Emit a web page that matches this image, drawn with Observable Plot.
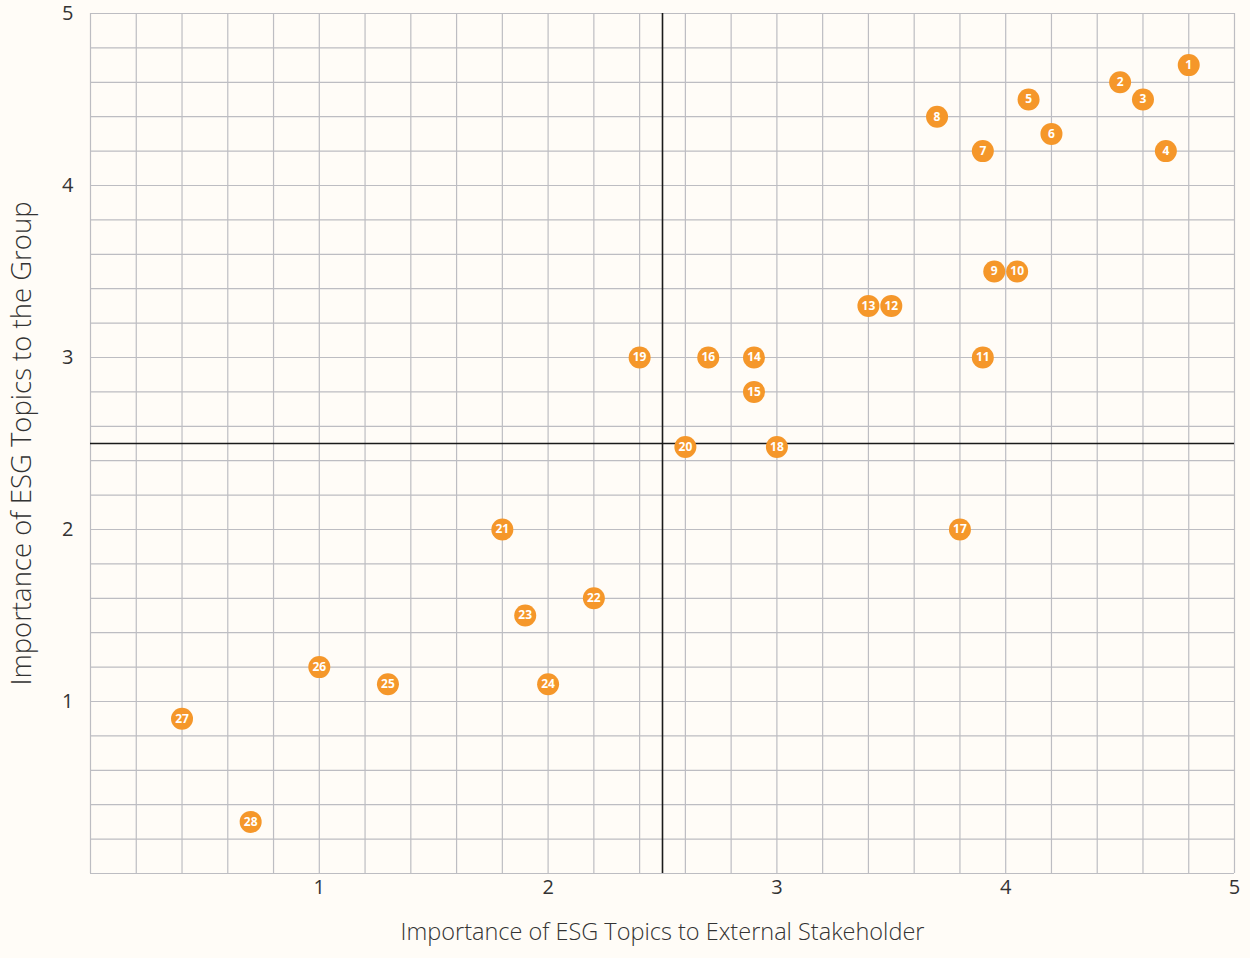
<!DOCTYPE html>
<html>
<head>
<meta charset="utf-8">
<script src="https://cdn.jsdelivr.net/npm/d3@7"></script>
<script src="https://cdn.jsdelivr.net/npm/@observablehq/plot@0.6"></script>
<style>
  html, body { margin: 0; padding: 0; background: #fffcf7; }
  #chart svg { display: block; }
</style>
</head>
<body>
<div id="chart"></div>
<script>
// Topic numbers
const topicIds = [1,2,3,4,5,6,7,8,9,10,11,12,13,14,15,16,17,18,19,20,21,22,23,24,25,26,27,28];
// Importance of ESG topics to external stakeholders (x)
const externalImportance = [4.8,4.5,4.6,4.7,4.1,4.2,3.9,3.7,3.95,4.05,3.9,3.5,3.4,2.9,2.9,2.7,3.8,3.0,2.4,2.6,1.8,2.2,1.9,2.0,1.3,1.0,0.4,0.7];
// Importance of ESG topics to the Group (y)
const groupImportance = [4.7,4.6,4.5,4.2,4.5,4.3,4.2,4.4,3.5,3.5,3.0,3.3,3.3,3.0,2.8,3.0,2.0,2.48,3.0,2.48,2.0,1.6,1.5,1.1,1.1,1.2,0.9,0.3];
// Axis tick labels
const tickValues = [1,2,3,4,5];
const gridValues = d3.range(26).map(i => i / 5);
const xTitle = "Importance of ESG Topics to External Stakeholder";
const yTitle = "Importance of ESG Topics to the Group";
const quadrantSplit = 2.5;

const topics = topicIds.map((id, i) => ({id, x: externalImportance[i], y: groupImportance[i]}));

const chart = Plot.plot({
  width: 1250,
  height: 958,
  marginLeft: 90,
  marginRight: 16,
  marginTop: 13,
  marginBottom: 85,
  style: {fontFamily: "'Open Sans', sans-serif", background: "#fffcf7", color: "#333"},
  x: {domain: [0, 5], axis: null},
  y: {domain: [0, 5], axis: null},
  marks: [
    Plot.gridX(gridValues, {stroke: "#bdbdc2", strokeOpacity: 1, strokeWidth: 1.2}),
    Plot.gridY(gridValues, {stroke: "#bdbdc2", strokeOpacity: 1, strokeWidth: 1.2}),
    Plot.text(tickValues, {x: d => d, text: d => String(d), frameAnchor: "bottom", dy: 20, fontSize: 20, fill: "#333"}),
    Plot.text(tickValues, {y: d => d, text: d => String(d), frameAnchor: "left", textAnchor: "end", dx: -17, fontSize: 20, fill: "#333"}),
    Plot.ruleX([quadrantSplit], {stroke: "#1a1a1a", strokeWidth: 1.6}),
    Plot.ruleY([quadrantSplit], {stroke: "#1a1a1a", strokeWidth: 1.6}),
    Plot.dot(topics, {x: "x", y: "y", r: 11, fill: "#f5972a", stroke: "none"}),
    Plot.text(topics, {x: "x", y: "y", text: "id", fill: "white", fontSize: 12, fontWeight: "bold"}),
    Plot.text([xTitle], {text: d => d, frameAnchor: "bottom", dy: 66, fontSize: 23.5, fontWeight: 300, fill: "#333"}),
    Plot.text([yTitle], {text: d => d, frameAnchor: "left", textAnchor: "middle", dx: -68, rotate: -90, fontSize: 27.5, fontWeight: 300, fill: "#333"})
  ]
});
document.getElementById("chart").appendChild(chart);
</script>
</body>
</html>
